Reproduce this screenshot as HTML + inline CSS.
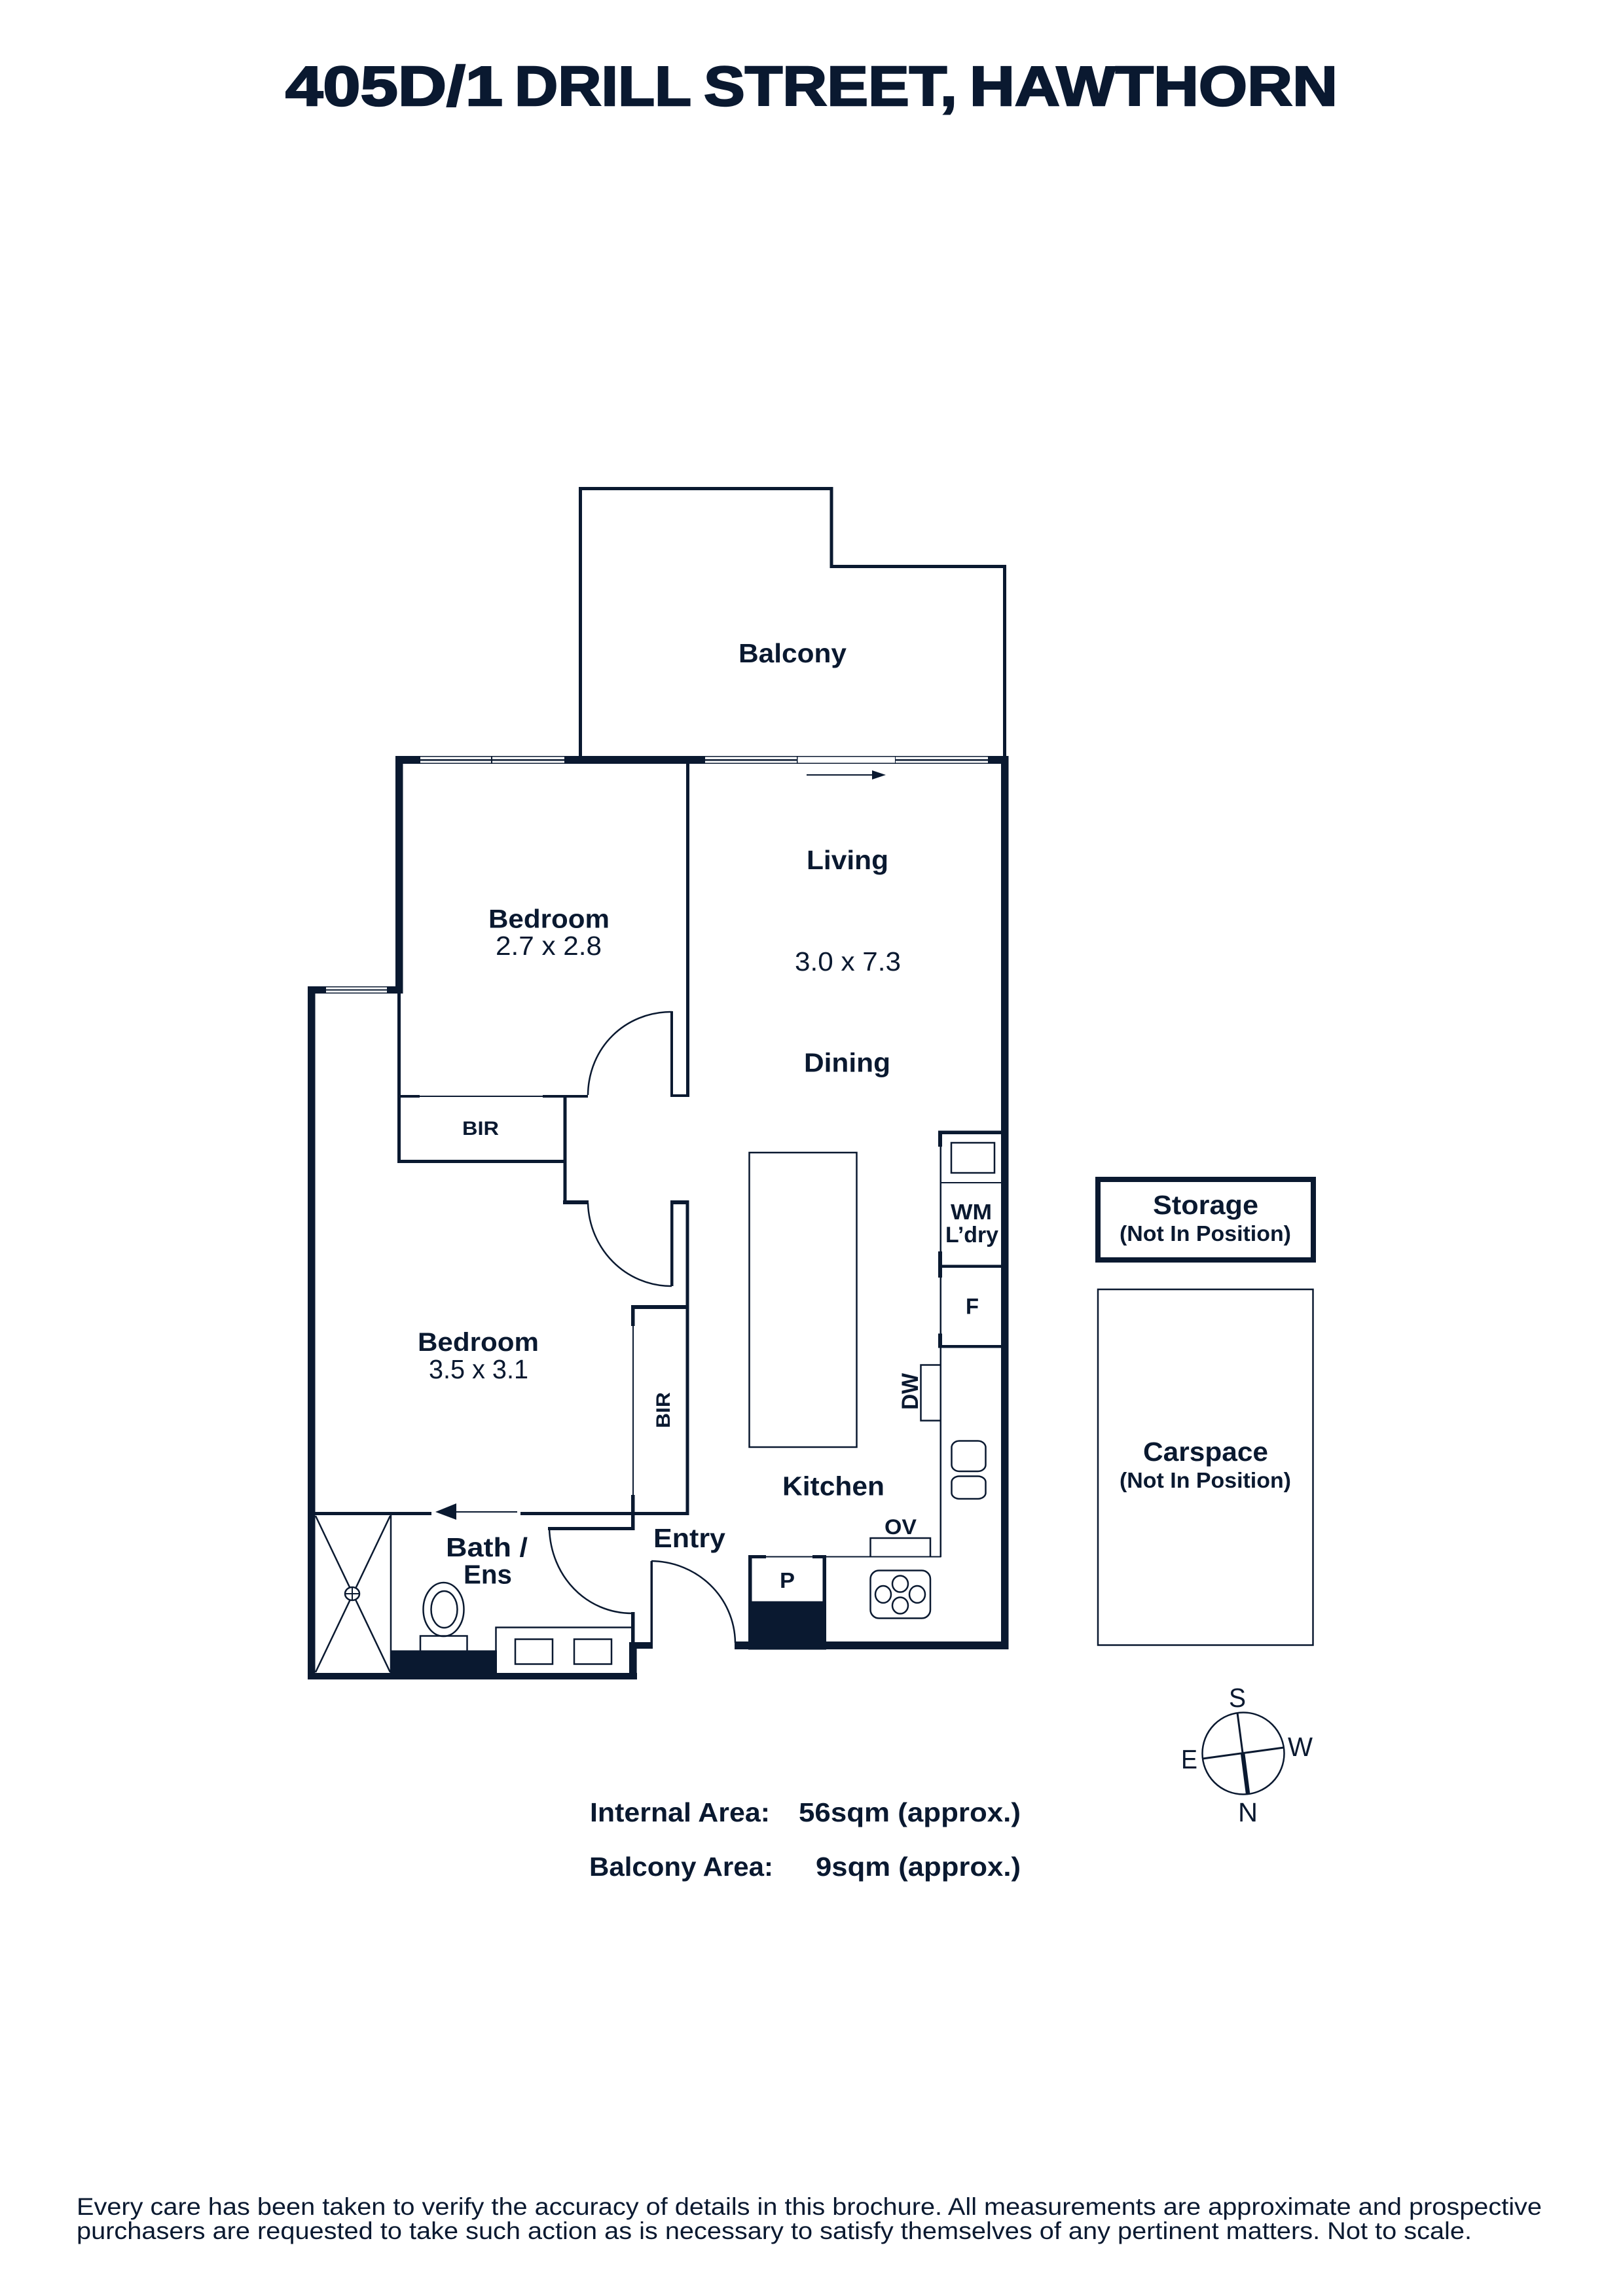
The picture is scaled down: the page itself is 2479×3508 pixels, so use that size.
<!DOCTYPE html>
<html><head><meta charset="utf-8"><title>405D/1 Drill Street, Hawthorn</title>
<style>html,body{margin:0;padding:0;background:#fff}svg{display:block}
text{font-family:"Liberation Sans",sans-serif;fill:#0a1930;font-weight:bold}
.r{font-weight:normal}.t{stroke:#0a1930;stroke-width:2.5}</style></head>
<body>
<svg xmlns="http://www.w3.org/2000/svg" width="2479" height="3508" viewBox="0 0 2479 3508">
<rect width="2479" height="3508" fill="#fff"/>
<!-- balcony -->
<path d="M886.500 1156V746.500H1270V865.500H1534.500V1156" fill="none" stroke="#0a1930" stroke-width="5"/>
<g fill="#0a1930">
<!-- outer walls -->
<rect x="604" y="1155" width="936" height="12"/>
<rect x="604" y="1155" width="11.500" height="363"/>
<rect x="470" y="1507" width="145" height="11"/>
<rect x="470" y="1507" width="11.500" height="1059"/>
<rect x="470" y="2556" width="503" height="10"/>
<rect x="1529" y="1155" width="11.500" height="1365"/>
<rect x="1122" y="2508" width="418" height="12"/>
<!-- bedroom partitions -->
<rect x="1048" y="1160" width="5" height="516"/>
<rect x="1024" y="1672" width="29" height="4"/>
<rect x="1024" y="1545" width="4" height="131"/>
<rect x="607" y="1518" width="5" height="259"/>
<rect x="607" y="1673" width="34" height="4"/>
<rect x="641" y="1674" width="188" height="2"/>
<rect x="829" y="1673" width="69" height="4"/>
<rect x="607" y="1772" width="258" height="5"/>
<rect x="860.500" y="1673" width="5" height="167"/>
<rect x="860" y="1834" width="39" height="6"/>
<rect x="1024" y="1834" width="4.500" height="131"/>
<rect x="1024" y="1834" width="28.500" height="6"/>
<rect x="1047.500" y="1834" width="5" height="481"/>
<rect x="964" y="1994" width="85" height="6"/>
<rect x="964" y="1994" width="5.500" height="32"/>
<rect x="966" y="2026" width="2" height="258"/>
<rect x="964" y="2284" width="5.500" height="54"/>
<rect x="481" y="2310" width="178" height="5"/>
<rect x="795" y="2310" width="257.500" height="5"/>
<rect x="837" y="2333" width="132" height="5"/>
<rect x="964" y="2463" width="5.500" height="50"/>
<rect x="961" y="2509" width="11.600" height="57"/>
<rect x="961" y="2509" width="36" height="10"/>
<rect x="993.500" y="2385" width="3.500" height="134"/>
<!-- arrow bedroom -->
<rect x="697" y="2309" width="93" height="2"/>
<path d="M665 2310L697 2297V2322Z"/>
<!-- black fills -->
<rect x="598" y="2521.500" width="161" height="36"/>
<rect x="1143" y="2446.500" width="119" height="74"/>
<rect x="1143" y="2376" width="5.500" height="72"/>
<rect x="1256.500" y="2376" width="5.500" height="72"/>
<rect x="1143" y="2376" width="27" height="5"/>
<rect x="1241" y="2376" width="21" height="5"/>
<rect x="1170" y="2377.500" width="267.500" height="2"/>
<!-- laundry -->
<rect x="1433" y="1727.500" width="96" height="5.500"/>
<rect x="1433" y="1727.500" width="6" height="24.500"/>
<rect x="1435.500" y="1752" width="2.500" height="160"/>
<rect x="1433" y="1912" width="6" height="40"/>
<rect x="1433" y="1932.500" width="96" height="4.500"/>
<rect x="1435.500" y="1952" width="2.500" height="90"/>
<rect x="1433" y="2037.500" width="6" height="22"/>
<rect x="1433" y="2055" width="96" height="4.500"/>
<rect x="1435.500" y="2059" width="2.500" height="320"/>
<rect x="1438" y="1806" width="91" height="2"/>
<!-- living arrow -->
<rect x="1232" y="1183" width="101" height="2"/>
<path d="M1353 1184L1332 1177V1191Z"/>
<!-- storage -->
<path fill-rule="evenodd" d="M1673 1798H2010V1929H1673ZM1681 1806V1921H2002V1806Z"/>
</g>
<!-- windows -->
<g>
<rect x="642" y="1156" width="220" height="10" fill="#fff"/>
<rect x="642" y="1155" width="220" height="1.500" fill="#0a1930"/>
<rect x="642" y="1160" width="220" height="2.500" fill="#0a1930"/>
<rect x="642" y="1165.500" width="220" height="1.500" fill="#0a1930"/>
<rect x="750" y="1155" width="2" height="12" fill="#0a1930"/>
<rect x="1077" y="1156" width="140" height="10" fill="#fff"/>
<rect x="1077" y="1155" width="140" height="1.500" fill="#0a1930"/>
<rect x="1077" y="1160" width="140" height="2.500" fill="#0a1930"/>
<rect x="1077" y="1165.500" width="140" height="1.500" fill="#0a1930"/>
<rect x="1217" y="1156" width="151" height="10" fill="#fff"/>
<rect x="1217" y="1155" width="151" height="1.500" fill="#0a1930"/>
<rect x="1217" y="1165.500" width="151" height="1.500" fill="#0a1930"/>
<rect x="1217" y="1155" width="1.500" height="12" fill="#0a1930"/>
<rect x="1367" y="1155" width="1.500" height="12" fill="#0a1930"/>
<rect x="1368" y="1156" width="141" height="10" fill="#fff"/>
<rect x="1368" y="1155" width="141" height="1.500" fill="#0a1930"/>
<rect x="1368" y="1160" width="141" height="2.500" fill="#0a1930"/>
<rect x="1368" y="1165.500" width="141" height="1.500" fill="#0a1930"/>
<rect x="498" y="1508" width="93" height="9" fill="#fff"/>
<rect x="498" y="1507" width="93" height="1.500" fill="#0a1930"/>
<rect x="498" y="1511.500" width="93" height="2" fill="#0a1930"/>
<rect x="498" y="1516.500" width="93" height="1.500" fill="#0a1930"/>
</g>
<!-- thin linework -->
<g fill="none" stroke="#0a1930" stroke-width="2.500">
<path d="M1026 1546C955 1546 899 1600 898 1673"/>
<path d="M898 1838C900 1908 955 1965 1026 1965"/>
<path d="M839 2335C841 2408 895 2465 966 2465"/>
<path d="M995 2385C1065 2386 1122 2440 1123 2510"/>
<rect x="1144.500" y="1761" width="164" height="450"/>
<rect x="1453" y="1746" width="66" height="46"/>
<path d="M1436 2085.500H1406.500V2170.500H1436"/>
<path d="M1329.500 2378V2350H1421V2378"/>
<rect x="1453.500" y="2201.500" width="52" height="46.500" rx="12" ry="10"/>
<rect x="1453.500" y="2255.500" width="52" height="34.500" rx="12" ry="9"/>
<rect x="1329.500" y="2399.500" width="91.500" height="73" rx="13"/>
<ellipse cx="1349" cy="2436" rx="12" ry="13"/>
<ellipse cx="1375" cy="2420" rx="12" ry="12.500"/>
<ellipse cx="1401" cy="2436" rx="12" ry="13"/>
<ellipse cx="1375" cy="2453" rx="12" ry="12.500"/>
<!-- bathroom -->
<path d="M597 2315V2556"/>
<path d="M482 2316L596 2555M596 2316L482 2555" stroke-width="2.500"/>
<ellipse cx="538" cy="2435" rx="11" ry="10" fill="#fff"/>
<path d="M527 2435H549M538 2425V2445" stroke-width="2"/>
<ellipse cx="677.500" cy="2459" rx="31" ry="41"/>
<ellipse cx="678.500" cy="2459" rx="20" ry="28"/>
<path d="M642 2521.500V2499.500H713.500V2521.500"/>
<path d="M757.500 2556V2486.500H964"/>
<rect x="787" y="2504.500" width="57" height="38"/>
<rect x="877" y="2504.500" width="57" height="38"/>
<!-- carspace -->
<rect x="1677" y="1970" width="328.500" height="543.500"/>
<!-- compass -->
<circle cx="1899" cy="2679" r="62.500"/>
<path d="M1890 2617L1898 2678M1837 2687L1961 2670" stroke-width="3"/>
<path d="M1898 2678L1906 2740" stroke-width="6.500"/>
</g>
<!-- title -->
<text class="t" x="436" y="161" font-size="85" textLength="332" lengthAdjust="spacingAndGlyphs">405D/1</text>
<text class="t" x="786" y="161" font-size="85" textLength="270" lengthAdjust="spacingAndGlyphs">DRILL</text>
<text class="t" x="1075" y="161" font-size="85" textLength="387" lengthAdjust="spacingAndGlyphs">STREET,</text>
<text class="t" x="1481" y="161" font-size="85" textLength="562" lengthAdjust="spacingAndGlyphs">HAWTHORN</text>
<!-- room labels -->
<text x="1128" y="1012" font-size="41" textLength="165" lengthAdjust="spacingAndGlyphs">Balcony</text>
<text x="746" y="1417.500" font-size="40" textLength="185" lengthAdjust="spacingAndGlyphs">Bedroom</text>
<text class="r" x="757" y="1459" font-size="41" textLength="162" lengthAdjust="spacingAndGlyphs">2.7 x 2.8</text>
<text x="1232" y="1328" font-size="41" textLength="125" lengthAdjust="spacingAndGlyphs">Living</text>
<text class="r" x="1214" y="1483" font-size="41" textLength="162" lengthAdjust="spacingAndGlyphs">3.0 x 7.3</text>
<text x="1228" y="1637.500" font-size="41" textLength="132" lengthAdjust="spacingAndGlyphs">Dining</text>
<text x="706" y="1734" font-size="30" textLength="56" lengthAdjust="spacingAndGlyphs">BIR</text>
<text x="638" y="2064" font-size="40" textLength="185" lengthAdjust="spacingAndGlyphs">Bedroom</text>
<text class="r" x="655" y="2106" font-size="41" textLength="152" lengthAdjust="spacingAndGlyphs">3.5 x 3.1</text>
<text transform="translate(1023 2182) rotate(-90)" font-size="30" textLength="55" lengthAdjust="spacingAndGlyphs">BIR</text>
<text x="681" y="2378" font-size="41" textLength="125" lengthAdjust="spacingAndGlyphs">Bath /</text>
<text x="708" y="2419.500" font-size="41" textLength="74" lengthAdjust="spacingAndGlyphs">Ens</text>
<text x="998" y="2364" font-size="41" textLength="110" lengthAdjust="spacingAndGlyphs">Entry</text>
<text x="1195" y="2284.500" font-size="41" textLength="156" lengthAdjust="spacingAndGlyphs">Kitchen</text>
<text x="1452" y="1863" font-size="33" textLength="63" lengthAdjust="spacingAndGlyphs">WM</text>
<text x="1444" y="1898" font-size="34" textLength="81" lengthAdjust="spacingAndGlyphs">L’dry</text>
<text x="1475" y="2007.500" font-size="34" textLength="20" lengthAdjust="spacingAndGlyphs">F</text>
<text transform="translate(1402 2154) rotate(-90)" font-size="35" textLength="56" lengthAdjust="spacingAndGlyphs">DW</text>
<text x="1351" y="2344" font-size="32" textLength="49" lengthAdjust="spacingAndGlyphs">OV</text>
<text x="1191" y="2426" font-size="33" textLength="23" lengthAdjust="spacingAndGlyphs">P</text>
<text x="1761" y="1855" font-size="41" textLength="161" lengthAdjust="spacingAndGlyphs">Storage</text>
<text x="1710" y="1896" font-size="33" textLength="262" lengthAdjust="spacingAndGlyphs">(Not In Position)</text>
<text x="1746" y="2232" font-size="41" textLength="191" lengthAdjust="spacingAndGlyphs">Carspace</text>
<text x="1710" y="2273" font-size="33" textLength="262" lengthAdjust="spacingAndGlyphs">(Not In Position)</text>
<!-- compass letters -->
<text class="r" x="1877" y="2608" font-size="41" textLength="26" lengthAdjust="spacingAndGlyphs">S</text>
<text class="r" x="1804" y="2702" font-size="41" textLength="25" lengthAdjust="spacingAndGlyphs">E</text>
<text class="r" x="1967" y="2683" font-size="41" textLength="38" lengthAdjust="spacingAndGlyphs">W</text>
<text class="r" x="1891" y="2783" font-size="41" textLength="30" lengthAdjust="spacingAndGlyphs">N</text>
<!-- areas -->
<text x="901" y="2783" font-size="41" textLength="275" lengthAdjust="spacingAndGlyphs">Internal Area:</text>
<text x="1220" y="2783" font-size="41" textLength="339" lengthAdjust="spacingAndGlyphs">56sqm (approx.)</text>
<text x="900" y="2866" font-size="41" textLength="281" lengthAdjust="spacingAndGlyphs">Balcony Area:</text>
<text x="1246" y="2866" font-size="41" textLength="313" lengthAdjust="spacingAndGlyphs">9sqm (approx.)</text>
<!-- footer -->
<text class="r" x="117" y="3384" font-size="37" textLength="2238" lengthAdjust="spacingAndGlyphs">Every care has been taken to verify the accuracy of details in this brochure. All measurements are approximate and prospective</text>
<text class="r" x="117" y="3421" font-size="37" textLength="2131" lengthAdjust="spacingAndGlyphs">purchasers are requested to take such action as is necessary to satisfy themselves of any pertinent matters. Not to scale.</text>
</svg>
</body></html>
